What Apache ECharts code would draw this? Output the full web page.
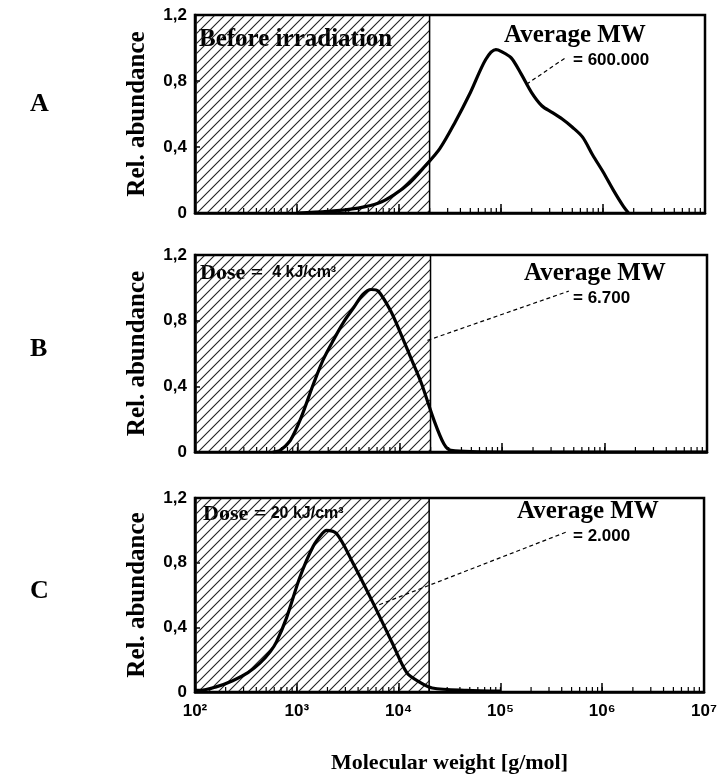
<!DOCTYPE html>
<html>
<head>
<meta charset="utf-8">
<script src="https://cdn.jsdelivr.net/npm/echarts@6/dist/echarts.min.js"></script>
<style>
html, body { margin: 0; background: #fff; }
#chart { width: 720px; height: 779px; }
</style>
</head>
<body>
<div id="chart"></div>
<script>
// molecular weight as log10(g/mol)
var logMwA = [3.0, 3.3, 3.6, 3.8, 3.95, 4.1, 4.25, 4.4, 4.55, 4.7, 4.85, 4.95, 5.0, 5.1, 5.2, 5.3, 5.4, 5.5, 5.6, 5.7, 5.8, 5.9, 6.0, 6.1, 6.2, 6.25];
var relAbA = [0.0, 0.01, 0.03, 0.06, 0.11, 0.18, 0.28, 0.39, 0.55, 0.73, 0.93, 0.99, 0.98, 0.94, 0.84, 0.73, 0.65, 0.61, 0.57, 0.52, 0.46, 0.35, 0.25, 0.14, 0.04, 0.0];

var logMwB = [2.76, 2.83, 2.93, 3.03, 3.16, 3.25, 3.35, 3.45, 3.55, 3.64, 3.72, 3.79, 3.91, 4.01, 4.11, 4.21, 4.33, 4.43, 4.5, 5.0, 7.0];
var relAbB = [0.0, 0.01, 0.07, 0.2, 0.42, 0.56, 0.68, 0.79, 0.88, 0.96, 0.99, 0.98, 0.86, 0.72, 0.57, 0.42, 0.2, 0.05, 0.01, 0.0, 0.0];

var logMwC = [2.0, 2.05, 2.2, 2.37, 2.52, 2.64, 2.74, 2.8, 2.9, 3.03, 3.16, 3.25, 3.29, 3.39, 3.55, 3.75, 3.94, 4.08, 4.21, 4.33, 4.67, 5.0];
var relAbC = [0.01, 0.01, 0.03, 0.07, 0.12, 0.18, 0.25, 0.31, 0.46, 0.71, 0.9, 0.98, 1.0, 0.98, 0.8, 0.55, 0.3, 0.12, 0.06, 0.025, 0.01, 0.005];

var xTickLabels = ['10\u00B2', '10\u00B3', '10\u2074', '10\u2075', '10\u2076', '10\u2077'];
var yTickLabels = ['0', '0,4', '0,8', '1,2'];
var hatchEnd = 4.3;   // log10(20 000)
var panelLetters = ['A', 'B', 'C'];
var avgMwLabels = ['= 600.000', '= 6.700', '= 2.000'];

var myChart = echarts.init(document.getElementById('chart'));

// hatch pattern for the region below the cut-off
var hatch = document.createElement('canvas');
hatch.width = 10; hatch.height = 10;
var hc = hatch.getContext('2d');
hc.strokeStyle = '#222';
hc.lineWidth = 1.1;
hc.beginPath();
hc.moveTo(0, 10); hc.lineTo(10, 0);
hc.moveTo(-1, 1); hc.lineTo(1, -1);
hc.moveTo(9, 11); hc.lineTo(11, 9);
hc.stroke();

// minor ticks of the log axis
var minorTicks = [];
for (var d = 2; d < 7; d++) {
    for (var k = 1; k <= 9; k++) {
        minorTicks.push([d + Math.log10(k)]);
    }
}

var panels = [
    {left: 195, top: 15, width: 510, height: 198, x: logMwA, y: relAbA, line: [[5.25, 0.78], [5.63, 0.94]]},
    {left: 195, top: 255, width: 512, height: 197, x: logMwB, y: relAbB, line: [[4.27, 0.68], [5.65, 0.98]]},
    {left: 195, top: 498, width: 512, height: 194, x: logMwC, y: relAbC, line: [[3.81, 0.54], [5.65, 0.99]]}
];

var serif = 'Liberation Serif';
var narrow = '"Liberation Sans Narrow", "Liberation Sans", sans-serif';

var grids = [], xAxes = [], yAxes = [], series = [];
panels.forEach(function (p, i) {
    var last = i === panels.length - 1;
    grids.push({
        left: p.left, top: p.top, width: p.width, height: p.height,
        show: true, borderColor: '#000', borderWidth: 2.5, backgroundColor: 'transparent'
    });
    xAxes.push({
        type: 'value', gridIndex: i, min: 2, max: 7, interval: 1,
        axisLine: {lineStyle: {color: '#000', width: 2.5}},
        axisTick: {inside: true, length: 9, lineStyle: {color: '#000', width: 1.5}},
        axisLabel: {
            show: last, margin: 11, color: '#000',
            fontFamily: narrow, fontWeight: 'bold', fontSize: 17,
            formatter: function (v) { return xTickLabels[Math.round(v) - 2]; }
        },
        splitLine: {show: false},
        name: last ? 'Molecular weight [g/mol]' : '',
        nameLocation: 'middle', nameGap: 60,
        nameTextStyle: {color: '#000', fontFamily: serif, fontWeight: 'bold', fontSize: 22}
    });
    yAxes.push({
        type: 'value', gridIndex: i, min: 0, max: 1.2, interval: 0.4,
        axisLine: {show: true, lineStyle: {color: '#000', width: 2.5}},
        axisTick: {inside: true, length: 5, lineStyle: {color: '#000', width: 1.5}},
        axisLabel: {
            margin: 8, color: '#000',
            fontFamily: narrow, fontWeight: 'bold', fontSize: 17,
            formatter: function (v) { return yTickLabels[Math.round(v / 0.4)]; }
        },
        splitLine: {show: false},
        name: 'Rel. abundance', nameLocation: 'middle', nameGap: 45,
        nameTextStyle: {color: '#000', fontFamily: serif, fontWeight: 'bold', fontSize: 25}
    });
    series.push({
        type: 'line', xAxisIndex: i, yAxisIndex: i,
        data: p.x.map(function (x, j) { return [x, p.y[j]]; }),
        smooth: 0.3, showSymbol: false, silent: true,
        lineStyle: {color: '#000', width: 3.2},
        markArea: {
            silent: true,
            itemStyle: {color: {image: hatch, repeat: 'repeat'}, borderColor: '#000', borderWidth: 1.5},
            data: [[{xAxis: 2}, {xAxis: hatchEnd}]]
        },
        markLine: {
            silent: true, symbol: ['none', 'none'],
            label: {show: false},
            lineStyle: {color: '#000', width: 1.2, type: [4, 3]},
            data: [[{coord: p.line[0]}, {coord: p.line[1]}]]
        },
        z: 3
    });
    series.push({
        type: 'custom', xAxisIndex: i, yAxisIndex: i, silent: true,
        data: minorTicks,
        renderItem: function (params, api) {
            var pt = api.coord([api.value(0), 0]);
            return {
                type: 'line',
                shape: {x1: pt[0], y1: pt[1], x2: pt[0], y2: pt[1] - 5},
                style: {stroke: '#000', lineWidth: 1.2}
            };
        }
    });
});

var graphics = [];
var letterY = [105, 350, 592];
panelLetters.forEach(function (l, i) {
    graphics.push({
        type: 'text', left: 30, top: letterY[i] - 14,
        style: {text: l, font: 'bold 26px ' + serif, fill: '#000'}
    });
});
var titleTop = [27, 262, 503];
graphics.push({type: 'text', left: 199, top: titleTop[0],
    style: {text: 'Before irradiation', font: 'bold 25px ' + serif, fill: '#000'}});
graphics.push({type: 'text', left: 200, top: titleTop[1],
    style: {text: '{a|Dose =}{b|  4 kJ/cm\u00B3}', rich: {
        a: {font: 'bold 22px ' + serif, fill: '#000'},
        b: {font: 'bold 16px ' + narrow, fill: '#000'}}}});
graphics.push({type: 'text', left: 203, top: titleTop[2],
    style: {text: '{a|Dose =}{b| 20 kJ/cm\u00B3}', rich: {
        a: {font: 'bold 22px ' + serif, fill: '#000'},
        b: {font: 'bold 16px ' + narrow, fill: '#000'}}}});

var avgLeft = [504, 524, 517], avgTop = [23, 261, 499];
avgMwLabels.forEach(function (t, i) {
    graphics.push({type: 'text', left: avgLeft[i], top: avgTop[i],
        style: {text: 'Average MW', font: 'bold 25px ' + serif, fill: '#000'}});
    graphics.push({type: 'text', left: 573, top: avgTop[i] + 29,
        style: {text: t, font: 'bold 17px ' + narrow, fill: '#000'}});
});

var option = {
    backgroundColor: '#fff',
    animation: false,
    grid: grids,
    xAxis: xAxes,
    yAxis: yAxes,
    series: series,
    graphic: graphics
};
myChart.setOption(option);
</script>
</body>
</html>
